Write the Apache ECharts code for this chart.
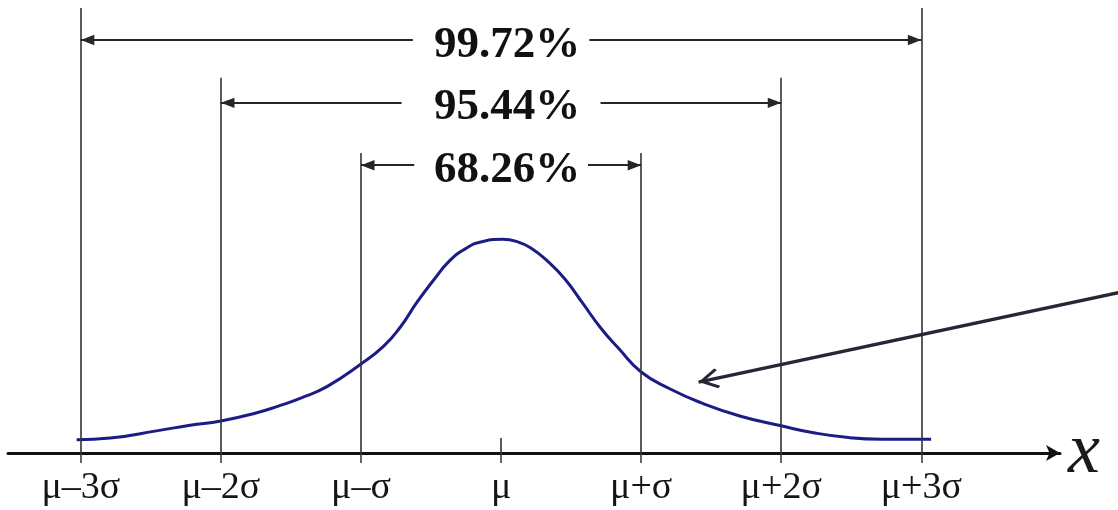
<!DOCTYPE html>
<html>
<head>
<meta charset="utf-8">
<script src="https://cdn.jsdelivr.net/npm/echarts@6/dist/echarts.min.js"></script>
<style>
html,body{margin:0;padding:0;background:#fff;}
#c{width:1118px;height:510px;}
</style>
</head>
<body>
<div id="c"></div>
<script>
// ---- data (x in units of sigma from mu, y in density units) ----
const sigmaTicks = [-3, -2, -1, 0, 1, 2, 3];
const tickLabels = ['μ–3σ', 'μ–2σ', 'μ–σ', 'μ', 'μ+σ', 'μ+2σ', 'μ+3σ'];

const curveX = [-3.03, -2.79, -2.45, -2.22, -2.0, -1.75, -1.59, -1.43, -1.24, -1.0,
                -0.84, -0.72, -0.60, -0.48, -0.37, -0.25, -0.13, 0.01, 0.11, 0.21,
                0.34, 0.46, 0.58, 0.71, 0.84, 1.0, 1.20, 1.43, 1.71, 2.0,
                2.23, 2.48, 2.72, 3.07];
const curveY = [0.025, 0.028, 0.042, 0.052, 0.060, 0.075, 0.088, 0.103, 0.125, 0.167,
                0.200, 0.236, 0.283, 0.325, 0.360, 0.384, 0.397, 0.401, 0.397, 0.385,
                0.358, 0.325, 0.282, 0.235, 0.196, 0.152, 0.121, 0.094, 0.069, 0.051,
                0.038, 0.029, 0.026, 0.026];

const guideSigma = [-3, -2, -1, 1, 2, 3];
const guideTop = [0.835, 0.704, 0.563, 0.563, 0.704, 0.835];
const muTickTop = 0.028;

const bandLabels = ['99.72%', '95.44%', '68.26%'];
const bandSpan = [3, 2, 1];
const bandLevel = [0.775, 0.657, 0.540];

const pointerFrom = [4.5, 0.306];
const pointerTo = [1.41, 0.133];

// ---- layout constants ----
const bandGap = [0.63, 0.71, 0.62];   // half-width of the text gap, in sigma units
const triPath = 'path://M0,0 L5,13 L-5,13 Z M0,-13 M-13,0 M13,0';
const chevPath = 'path://M0,0 L10,18 L8,20.5 L0,6 L-8,20.5 L-10,18 Z M0,-20.5 M-20.5,0 M20.5,0';

const curveData = curveX.map((x, i) => [x, curveY[i]]);

const guideLines = guideSigma.map((s, i) => [{coord: [s, 0]}, {coord: [s, guideTop[i]]}]);
guideLines.push([{coord: [0, 0]}, {coord: [0, muTickTop]}]);

const bandLines = [];
bandLabels.forEach((t, i) => {
  const s = bandSpan[i], lv = bandLevel[i], g = bandGap[i];
  bandLines.push([{coord: [-s, lv], symbol: triPath, symbolSize: 27}, {coord: [-g, lv], symbol: 'none'}]);
  bandLines.push([{coord: [g, lv], symbol: 'none'}, {coord: [s, lv], symbol: triPath, symbolSize: 27}]);
});

const chart = echarts.init(document.getElementById('c'), null, {renderer: 'canvas'});
chart.setOption({
  animation: false,
  backgroundColor: '#fff',
  grid: {left: 8, right: 58, top: 0, bottom: 57, containLabel: false, outerBoundsMode: 'none'},
  xAxis: {
    type: 'value', min: -3.52, max: 3.99,
    splitLine: {show: false},
    axisLine: {show: true, onZero: false, symbol: ['none', 'arrow'], symbolSize: [12, 14],
               lineStyle: {color: '#111', width: 3}},
    axisTick: {show: true, customValues: sigmaTicks, length: 10, lineStyle: {color: '#333', width: 1.5}},
    axisLabel: {show: true, customValues: sigmaTicks,
                formatter: v => tickLabels[sigmaTicks.indexOf(Math.round(v))],
                fontFamily: 'Liberation Serif', fontSize: 38, color: '#151515', margin: 16},
    name: 'x', nameLocation: 'end', nameGap: 8,
    nameTextStyle: {fontFamily: 'Liberation Serif', fontStyle: 'italic', fontSize: 72, color: '#1a1a1a',
                    padding: [0, 0, 18, 0]}
  },
  yAxis: {type: 'value', min: 0, max: 0.85, show: false},
  series: [
    {
      type: 'line', name: 'guides', data: [], silent: true, z: 1,
      markLine: {
        silent: true, symbol: ['none', 'none'], label: {show: false}, emphasis: {disabled: true},
        lineStyle: {color: '#333', width: 1.6, type: 'solid'},
        data: guideLines
      }
    },
    {
      type: 'line', name: 'bands', data: [], silent: true, z: 2,
      markLine: {
        silent: true, symbol: ['none', 'none'], label: {show: false}, emphasis: {disabled: true},
        lineStyle: {color: '#262626', width: 2, type: 'solid'},
        data: bandLines
      }
    },
    {
      type: 'line', name: 'density', data: curveData, smooth: 0.5, showSymbol: false, silent: true, z: 3,
      lineStyle: {color: '#1c1c86', width: 3}
    },
    {
      type: 'scatter', name: 'bandText', silent: true, z: 5,
      data: bandLabels.map((t, i) => ({value: [0, bandLevel[i]], name: t})),
      symbolSize: 1, itemStyle: {color: 'transparent'},
      label: {show: true, position: 'inside', formatter: '{b}', fontFamily: 'Liberation Serif',
              fontWeight: 'bold', fontSize: 45, color: '#111', opacity: 1,
              textBorderWidth: 0, offset: [6, 5]}
    },
    {
      type: 'lines', name: 'pointer', coordinateSystem: 'cartesian2d', clip: false, silent: true, z: 6,
      data: [{coords: [pointerFrom, pointerTo]}],
      symbol: ['none', chevPath], symbolSize: 41,
      lineStyle: {color: '#262636', width: 3.5, opacity: 1, curveness: 0}
    }
  ]
});
</script>
</body>
</html>
